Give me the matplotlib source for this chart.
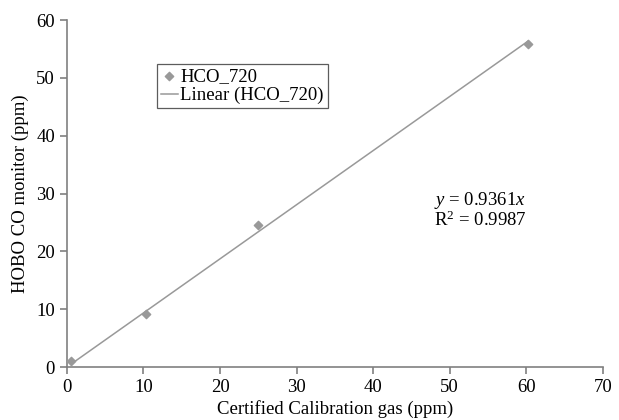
import matplotlib
matplotlib.use("Agg")
import matplotlib.pyplot as plt
import numpy as np

plt.rcParams['font.family'] = ['Liberation Serif', 'DejaVu Serif']
plt.rcParams['mathtext.fontset'] = 'custom'
plt.rcParams['mathtext.rm'] = 'Liberation Serif'
plt.rcParams['mathtext.it'] = 'Liberation Serif:italic'

x_vals = [0.6, 10.4, 25.0, 60.2]
y_vals = [1.0, 9.2, 24.6, 55.8]
slope = 0.9361
r2 = 0.9987
x_ticks = [0, 10, 20, 30, 40, 50, 60, 70]
y_ticks = [0, 10, 20, 30, 40, 50, 60]

fig = plt.figure(figsize=(6.19, 4.20), dpi=100)
ax = fig.add_axes([0.108, 0.126, 0.866, 0.826])

grey = '#999999'
fs = 13.5
ax.scatter(x_vals, y_vals, marker='D', s=18, color=grey, zorder=3, label='HCO_720')
xf = np.array([min(x_vals), max(x_vals)])
ax.plot(xf, slope * xf, color=grey, lw=1.1, label='Linear (HCO_720)')

ax.set_xlim(0, 70)
ax.set_ylim(0, 60)
ax.set_xticks(x_ticks)
ax.set_yticks(y_ticks)
for s in ['top', 'right']:
    ax.spines[s].set_visible(False)
for s in ['left', 'bottom']:
    ax.spines[s].set_color('#808080')
    ax.spines[s].set_linewidth(1.2)
ax.tick_params(direction='out', length=5, color='#808080', labelsize=fs, width=1.2)
ax.set_xlabel('Certified Calibration gas (ppm)', fontsize=fs, labelpad=3)
ax.set_ylabel('HOBO CO monitor (ppm)', fontsize=fs, labelpad=5)

leg = ax.legend(loc='upper left', bbox_to_anchor=(0.168, 0.873), fontsize=fs,
                frameon=True, fancybox=False, edgecolor='#333333', borderpad=0.2,
                handlelength=0.9, handletextpad=0.15, labelspacing=0.1, borderaxespad=0)
leg.get_frame().set_linewidth(0.9)

fig.text(480 / 619, 1 - 210 / 420, f'$y$ = {slope:.4f}$x$\nR$^2$ = {r2:.4f}',
         ha='center', va='center', multialignment='center', linespacing=1.0, fontsize=fs)

fig.savefig('out.png', dpi=100)
